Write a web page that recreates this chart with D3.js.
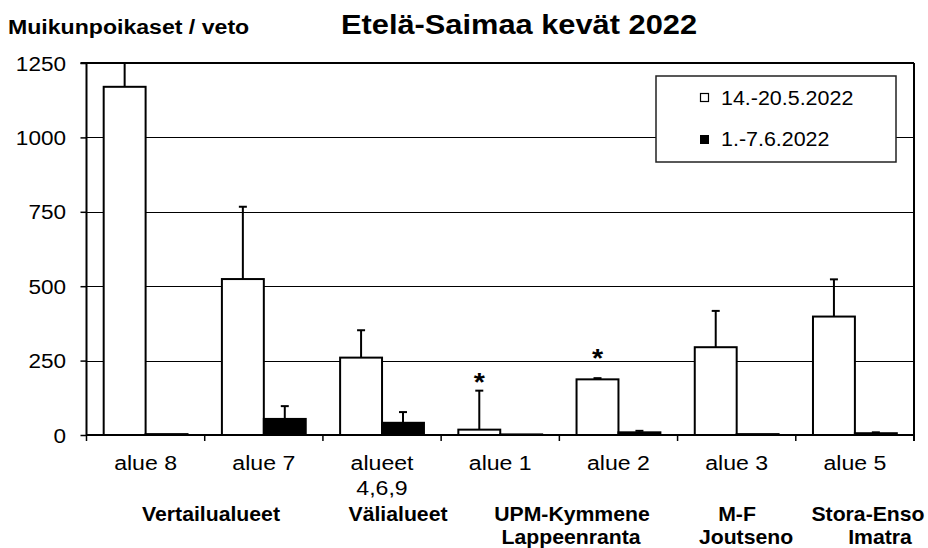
<!DOCTYPE html>
<head>
	<meta charset="utf-8">
	<script src="https://d3js.org/d3.v7.min.js"></script>
	<style>
		body { margin: 0; background: #fff; }
		text { font-family: "Liberation Sans", Arial, sans-serif; fill: #000; }
	</style>
</head>
<body>
	<div id="chart"></div>
	<script>

	// data
	var categories = ["alue 8", "alue 7", "alueet 4,6,9", "alue 1", "alue 2", "alue 3", "alue 5"];
	var tickLabels = [["alue 8"], ["alue 7"], ["alueet", "4,6,9"], ["alue 1"], ["alue 2"], ["alue 3"], ["alue 5"]];
	var seriesNames = ["14.-20.5.2022", "1.-7.6.2022"];
	var may = [1170, 524, 260, 18, 187, 295, 398];
	var mayErr = [160, 243, 92, 131, 4, 122, 125];
	var june = [3, 54, 41, 2, 9, 3, 6];
	var juneErr = [0, 43, 36, 0, 5, 0, 3];
	var starCats = ["alue 1", "alue 2"];
	var starValues = [198, 279];
	var yTicks = [0, 250, 500, 750, 1000, 1250];
	var groupLabels = [["Vertailualueet"], ["Välialueet"], ["UPM-Kymmene", "Lappeenranta"], ["M-F", "Joutseno"], ["Stora-Enso", "Imatra"]];

	var width = 928, height = 548;
	var mLeft = 86.5, mRight = 914, mTop = 63, mBottom = 435;
	var sx = 1.1; // text in the original is a bit wide

	var svg = d3.select("#chart").append("svg")
		.attr("width", width)
		.attr("height", height);

	var x = d3.scaleBand().domain(categories).range([mLeft, mRight]);
	var x1 = d3.scaleBand().domain(["may", "june"]).range([0, x.bandwidth()]).paddingOuter(0.41);
	var y = d3.scaleLinear().domain([0, 1250]).range([mBottom, mTop]);

	function label(g, px, py, str, size, bold, anchor) {
		return g.append("text")
			.attr("transform", "translate(" + px + "," + py + ") scale(" + sx + ",1)")
			.attr("text-anchor", anchor || "middle")
			.style("font-size", size + "px")
			.style("font-weight", bold ? "bold" : "normal")
			.text(str);
	}

	// gridlines
	svg.append("g")
		.selectAll("line")
		.data(yTicks.filter(d => d > 0 && d < 1250))
		.join("line")
			.attr("x1", mLeft).attr("x2", mRight)
			.attr("y1", d => Math.round(y(d)) + 0.5).attr("y2", d => Math.round(y(d)) + 0.5)
			.attr("stroke", "#000").attr("stroke-width", 1);

	svg.append("clipPath").attr("id", "plot")
		.append("rect").attr("x", mLeft).attr("y", mTop).attr("width", mRight - mLeft).attr("height", mBottom - mTop);

	var rows = categories.map((c, i) => ({cat: c, may: may[i], mayErr: mayErr[i], june: june[i], juneErr: juneErr[i]}));

	var bars = svg.append("g").attr("clip-path", "url(#plot)");

	// error bars first so the bar outline sits on top
	var errs = [];
	rows.forEach(r => {
		errs.push({cat: r.cat, s: "may", v: r.may, e: r.mayErr});
		errs.push({cat: r.cat, s: "june", v: r.june, e: r.juneErr});
	});
	var eb = bars.selectAll(".err")
		.data(errs.filter(d => d.e > 0))
		.join("g").attr("class", "err");
	eb.append("line")
		.attr("x1", d => x(d.cat) + x1(d.s) + x1.bandwidth() / 2)
		.attr("x2", d => x(d.cat) + x1(d.s) + x1.bandwidth() / 2)
		.attr("y1", d => y(d.v)).attr("y2", d => y(d.v + d.e))
		.attr("stroke", "#000").attr("stroke-width", 2);
	eb.append("line")
		.attr("x1", d => x(d.cat) + x1(d.s) + x1.bandwidth() / 2 - 4)
		.attr("x2", d => x(d.cat) + x1(d.s) + x1.bandwidth() / 2 + 4)
		.attr("y1", d => y(d.v + d.e)).attr("y2", d => y(d.v + d.e))
		.attr("stroke", "#000").attr("stroke-width", 2);

	bars.selectAll(".bmay")
		.data(rows)
		.join("rect").attr("class", "bmay")
			.attr("x", d => x(d.cat) + x1("may"))
			.attr("y", d => y(d.may))
			.attr("width", x1.bandwidth())
			.attr("height", d => mBottom - y(d.may))
			.attr("fill", "#fff").attr("stroke", "#000").attr("stroke-width", 2);

	bars.selectAll(".bjune")
		.data(rows)
		.join("rect").attr("class", "bjune")
			.attr("x", d => x(d.cat) + x1("june"))
			.attr("y", d => y(d.june))
			.attr("width", x1.bandwidth())
			.attr("height", d => mBottom - y(d.june))
			.attr("fill", "#000").attr("stroke", "#000").attr("stroke-width", 2);

	// stars
	starCats.forEach((c, i) => {
		label(svg, x(c) + x1("may") + x1.bandwidth() / 2, y(starValues[i]) + 15, "*", 26, true);
	});

	// frame: top and right
	svg.append("line").attr("x1", mLeft - 6).attr("x2", mRight).attr("y1", mTop).attr("y2", mTop).attr("stroke", "#000").attr("stroke-width", 2);
	svg.append("line").attr("x1", mRight).attr("x2", mRight).attr("y1", mTop).attr("y2", mBottom + 6).attr("stroke", "#000").attr("stroke-width", 2);

	var yAxis = svg.append("g")
		.attr("transform", "translate(" + mLeft + ",0)")
		.call(d3.axisLeft(y).tickValues(yTicks).tickSize(6).tickFormat(""));
	yAxis.select(".domain").attr("stroke-width", 2).attr("d", "M0," + mTop + "V" + mBottom);
	yAxis.selectAll(".tick line").attr("stroke-width", 1.5);
	yTicks.forEach(t => label(svg, 66, y(t) + 7.5, String(t), 20.5, false, "end"));

	var xAxis = svg.append("g")
		.attr("transform", "translate(0," + mBottom + ")")
		.call(d3.axisBottom(x).tickSize(6).tickFormat(""));
	xAxis.select(".domain").attr("stroke-width", 2).attr("d", "M" + mLeft + ",0H" + mRight);
	xAxis.selectAll(".tick").remove();
	xAxis.selectAll(".bt")
		.data(categories.map(c => x(c)).concat([mRight]))
		.join("line")
			.attr("x1", d => d).attr("x2", d => d)
			.attr("y1", 0).attr("y2", 6)
			.attr("stroke", "#000").attr("stroke-width", 1.5);

	// category labels
	categories.forEach((c, i) => {
		tickLabels[i].forEach((t, j) => {
			label(svg, x(c) + x.bandwidth() / 2, 470 + j * 25, t, 21, false);
		});
	});

	// group labels under the categories
	var groupX = [[211], [398], [572, 571], [737, 746], [868, 880]];
	groupLabels.forEach((lines, i) => {
		lines.forEach((t, j) => {
			label(svg, groupX[i][j], 521 + j * 23, t, 19.3, true);
		});
	});

	// titles
	label(svg, 8, 34, "Muikunpoikaset / veto", 21, true, "start");
	label(svg, 519, 34, "Etelä-Saimaa kevät 2022", 28, true);

	// legend
	var lg = svg.append("g");
	lg.append("rect").attr("x", 656).attr("y", 76).attr("width", 240).attr("height", 86)
		.attr("fill", "#fff").attr("stroke", "#222").attr("stroke-width", 1.5);
	lg.append("rect").attr("x", 700.5).attr("y", 93.5).attr("width", 8).attr("height", 8)
		.attr("fill", "#fff").attr("stroke", "#000").attr("stroke-width", 1.2);
	lg.append("rect").attr("x", 700).attr("y", 135).attr("width", 9).attr("height", 9)
		.attr("fill", "#000");
	label(lg, 721, 105, seriesNames[0], 19.5, false, "start");
	label(lg, 721, 146, seriesNames[1], 19.5, false, "start");

	</script>
</body>
